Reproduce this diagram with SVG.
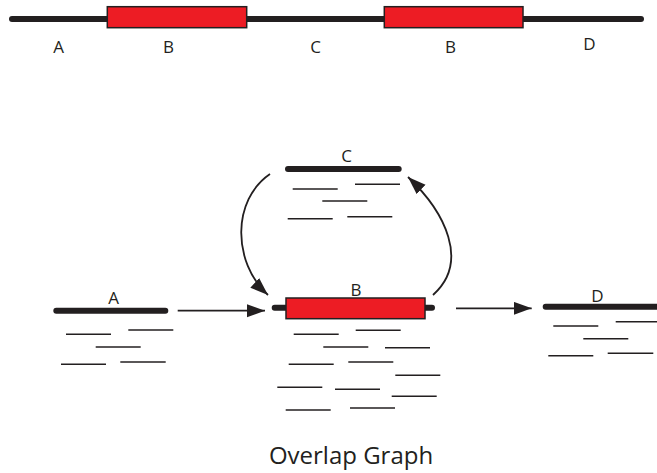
<svg xmlns="http://www.w3.org/2000/svg" width="657" height="473" viewBox="0 0 657 473">
  <style>
    .strand { stroke: #231f20; stroke-width: 6; stroke-linecap: round; fill: none; }
    .repeat { fill: #ed1c24; stroke: #231f20; stroke-width: 1.5; }
    .read { stroke: #231f20; stroke-width: 1.6; fill: none; }
    .edge { stroke: #231f20; stroke-width: 1.8; fill: none; }
    .lbl { font-family: "Open Sans", "Liberation Sans", sans-serif; font-size: 17px; fill: #231f20; text-anchor: middle; }
    .title { font-family: "Open Sans", "Liberation Sans", sans-serif; font-size: 24px; fill: #231f20; text-anchor: middle; }
  </style>
  <defs>
    <marker id="arrow" markerUnits="userSpaceOnUse" markerWidth="20" markerHeight="14" refX="18" refY="6.5" orient="auto">
      <path d="M0,0 L18,6.5 L0,13 Z" fill="#231f20"/>
    </marker>
  </defs>
  <rect width="657" height="473" fill="#ffffff"/>

  <!-- genome with two copies of repeat B -->
  <g id="genome">
    <line class="strand" x1="12" y1="19" x2="641" y2="19"/>
    <rect class="repeat" x="107.3" y="6.7" width="139.4" height="21"/>
    <rect class="repeat" x="384.3" y="6.7" width="138.7" height="21"/>
    <text class="lbl" x="58.5" y="53">A</text>
    <text class="lbl" x="168.5" y="53">B</text>
    <text class="lbl" x="315.5" y="53">C</text>
    <text class="lbl" x="450.5" y="53">B</text>
    <text class="lbl" x="589.5" y="50">D</text>
  </g>

  <!-- node A -->
  <g id="node-A">
    <line class="strand" x1="56.3" y1="310.7" x2="165.3" y2="310.7"/>
    <text class="lbl" x="113.5" y="304">A</text>
    <line class="read" x1="66" y1="334.3" x2="111" y2="334.3"/>
    <line class="read" x1="128.3" y1="330" x2="173.3" y2="330"/>
    <line class="read" x1="95.7" y1="347" x2="140.7" y2="347"/>
    <line class="read" x1="61" y1="364.3" x2="106" y2="364.3"/>
    <line class="read" x1="120.3" y1="362" x2="165.7" y2="362"/>
  </g>

  <!-- node C -->
  <g id="node-C">
    <line class="strand" x1="288" y1="169" x2="398.7" y2="169"/>
    <text class="lbl" x="346.5" y="162">C</text>
    <line class="read" x1="292.7" y1="189" x2="337.7" y2="189"/>
    <line class="read" x1="355" y1="184.3" x2="400" y2="184.3"/>
    <line class="read" x1="322.3" y1="201" x2="367.3" y2="201"/>
    <line class="read" x1="287.7" y1="218.7" x2="332.7" y2="218.7"/>
    <line class="read" x1="347.3" y1="216.7" x2="392.3" y2="216.7"/>
  </g>

  <!-- node B (collapsed repeat) -->
  <g id="node-B">
    <line class="strand" x1="274.7" y1="307.7" x2="432" y2="307.7"/>
    <rect class="repeat" x="286" y="298" width="139" height="20.7"/>
    <text class="lbl" x="356" y="296">B</text>
    <line class="read" x1="293.7" y1="334.3" x2="338.7" y2="334.3"/>
    <line class="read" x1="355.7" y1="330.3" x2="400.7" y2="330.3"/>
    <line class="read" x1="323.3" y1="347" x2="368.3" y2="347"/>
    <line class="read" x1="385" y1="347.7" x2="430" y2="347.7"/>
    <line class="read" x1="288.7" y1="364.3" x2="333.7" y2="364.3"/>
    <line class="read" x1="348.3" y1="362" x2="393.3" y2="362"/>
    <line class="read" x1="395.3" y1="375.3" x2="440.3" y2="375.3"/>
    <line class="read" x1="277.3" y1="387.3" x2="322.3" y2="387.3"/>
    <line class="read" x1="335" y1="389.3" x2="380" y2="389.3"/>
    <line class="read" x1="391.7" y1="396.3" x2="436.7" y2="396.3"/>
    <line class="read" x1="285.7" y1="410" x2="330.7" y2="410"/>
    <line class="read" x1="350" y1="408" x2="395" y2="408"/>
  </g>

  <!-- node D -->
  <g id="node-D">
    <line class="strand" x1="545.7" y1="306.7" x2="662" y2="306.7"/>
    <text class="lbl" x="597.5" y="302">D</text>
    <line class="read" x1="553.3" y1="326" x2="598.3" y2="326"/>
    <line class="read" x1="615.7" y1="321.7" x2="660" y2="321.7"/>
    <line class="read" x1="583.3" y1="338.7" x2="628.3" y2="338.7"/>
    <line class="read" x1="548.3" y1="355.7" x2="593.3" y2="355.7"/>
    <line class="read" x1="607.7" y1="353.3" x2="653.3" y2="353.3"/>
  </g>

  <!-- overlap edges -->
  <g id="edges">
    <line class="edge" x1="177.7" y1="310.7" x2="265" y2="310.7" marker-end="url(#arrow)"/>
    <line class="edge" x1="456" y1="308.3" x2="531.7" y2="308.3" marker-end="url(#arrow)"/>
    <path class="edge" d="M270,174 C232,200 232,262 268,295" marker-end="url(#arrow)"/>
    <path class="edge" d="M433,295 C470,262 445,212 408,177" marker-end="url(#arrow)"/>
  </g>

  <text class="title" x="351" y="464">Overlap Graph</text>
</svg>
